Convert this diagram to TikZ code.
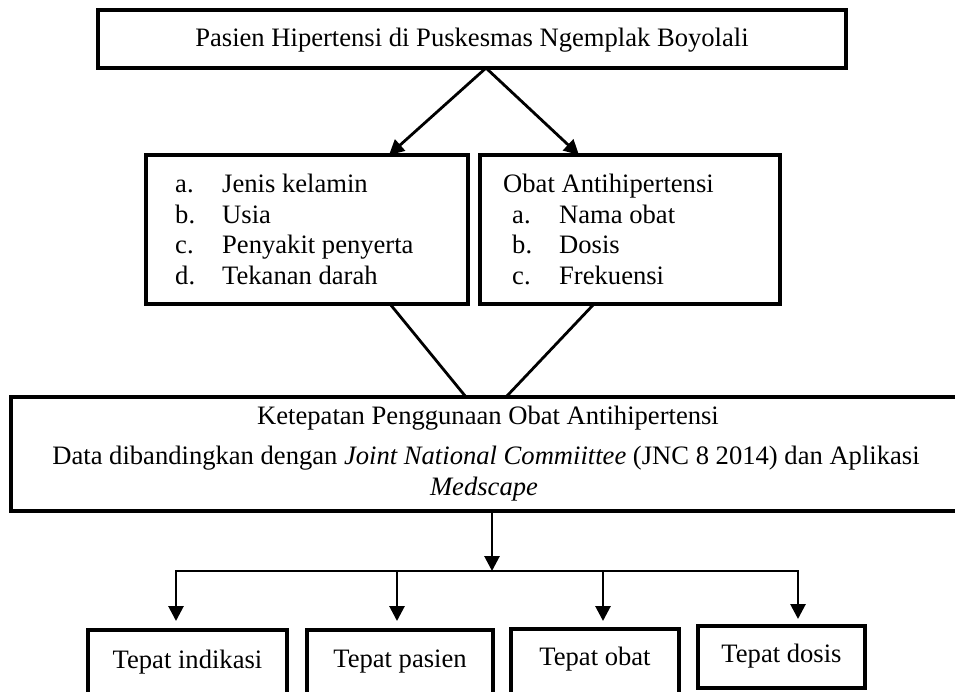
\documentclass[tikz,border=0pt]{standalone}
\usepackage{fontspec}
\setmainfont{Liberation Serif}
\usetikzlibrary{arrows.meta,calc}
\tikzset{
  boxnode/.style={draw, line width=3.5pt, inner sep=0pt, minimum width=#1},
  txt/.style={inner sep=0pt, font=\fontsize{26.6}{31}\selectfont},
  link/.style={line width=2.8pt},
  arr/.style={line width=2.8pt, -{Triangle[length=15pt,width=15pt]}},
}
\begin{document}
\begin{tikzpicture}[x=1pt,y=-1pt]
\clip (0,0) rectangle (955,691);
% boxes
\node[boxnode=748pt, minimum height=58pt] (top) at (472,39) {};
\node[boxnode=322pt, minimum height=149pt] (ml) at (307,229.5) {};
\node[boxnode=300pt, minimum height=149pt] (mr) at (630,229.5) {};
\node[boxnode=952pt, minimum height=114pt] (big) at (487,454) {};
\node[boxnode=199pt, minimum height=70pt] (b1) at (187.5,665) {};
\node[boxnode=186pt, minimum height=70pt] (b2) at (400,665) {};
\node[boxnode=168pt, minimum height=70pt] (b3) at (595,664) {};
\node[boxnode=167pt, minimum height=62pt] (b4) at (781.5,657) {};
% texts
\node[txt, anchor=base] (tt) at (472,46) {Pasien Hipertensi di Puskesmas Ngemplak Boyolali};
\node[txt, anchor=base west] (la) at (175,192) {a.};
\node[txt, anchor=base west] (lb) at (175,223) {b.};
\node[txt, anchor=base west] (lc) at (175,253) {c.};
\node[txt, anchor=base west] (ld) at (175,284) {d.};
\node[txt, anchor=base west] (lat) at (222,192) {Jenis kelamin};
\node[txt, anchor=base west] (lbt) at (222,223) {Usia};
\node[txt, anchor=base west] (lct) at (222,253) {Penyakit penyerta};
\node[txt, anchor=base west] (ldt) at (222,284) {Tekanan darah};
\node[txt, anchor=base west] (rh) at (503,192) {Obat Antihipertensi};
\node[txt, anchor=base west] (ra) at (512,223) {a.};
\node[txt, anchor=base west] (rb) at (512,253) {b.};
\node[txt, anchor=base west] (rc) at (512,284) {c.};
\node[txt, anchor=base west] (rat) at (559,223) {Nama obat};
\node[txt, anchor=base west] (rbt) at (559,253) {Dosis};
\node[txt, anchor=base west] (rct) at (559,284) {Frekuensi};
\node[txt, anchor=base] (k1) at (488,424) {Ketepatan Penggunaan Obat Antihipertensi};
\node[txt, anchor=base] (k2) at (486,464) {Data dibandingkan dengan \textit{Joint National Commiittee} (JNC 8 2014) dan Aplikasi};
\node[txt, anchor=base] (k3) at (484,495) {\textit{Medscape}};
\node[txt, anchor=base] (t1) at (187.5,668) {Tepat indikasi};
\node[txt, anchor=base] (t2) at (400,667) {Tepat pasien};
\node[txt, anchor=base] (t3) at (595,665) {Tepat obat};
\node[txt, anchor=base] (t4) at (781.5,662) {Tepat dosis};
% connector points
\coordinate (apex) at (486,68);
\coordinate (tipL) at (389,155);
\coordinate (tipR) at (579,155);
\coordinate (mlout) at (390,304);
\coordinate (mrout) at (594,304);
\coordinate (bigL) at (466,397);
\coordinate (bigR) at (506,397);
\coordinate (bigout) at (492,511);
\coordinate (barmid) at (492,571);
\coordinate (bar1) at (176,571);
\coordinate (bar2) at (397,571);
\coordinate (bar3) at (603,571);
\coordinate (bar4) at (798,571);
\coordinate (in1) at (176,621);
\coordinate (in2) at (397,621);
\coordinate (in3) at (603,621);
\coordinate (in4) at (798,619);
% connectors
\draw[arr] (apex) -- (tipL);
\draw[arr] (apex) -- (tipR);
\draw[link] (mlout) -- (bigL);
\draw[link] (mrout) -- (bigR);
\draw[arr] (bigout) -- (barmid);
\draw[link, line cap=rect] (bar1) -- (bar4);
\draw[arr] (bar1) -- (in1);
\draw[arr] (bar2) -- (in2);
\draw[arr] (bar3) -- (in3);
\draw[arr] (bar4) -- (in4);
\end{tikzpicture}
\end{document}
